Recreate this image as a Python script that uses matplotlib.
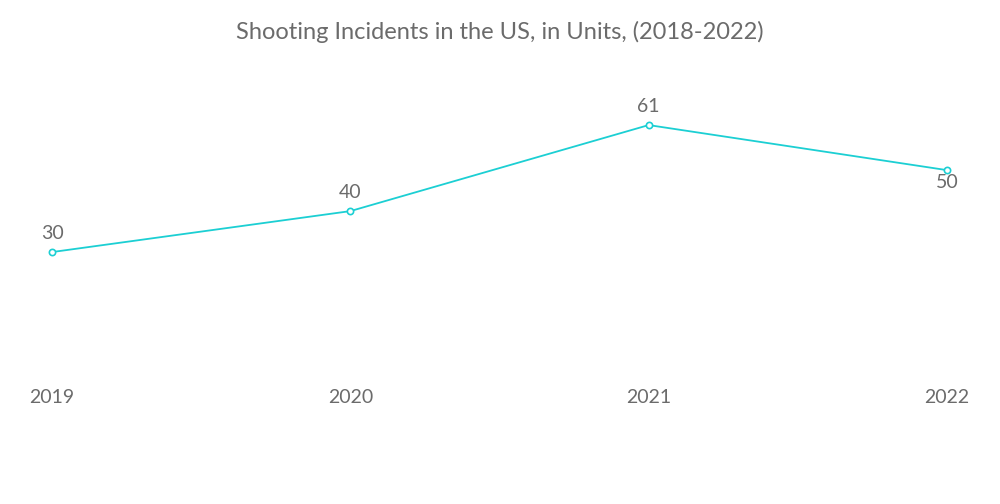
import matplotlib
matplotlib.use("Agg")
import matplotlib.pyplot as plt

years = ["2019", "2020", "2021", "2022"]
incidents = [30, 40, 61, 50]
label_pos = ["above", "above", "above", "below"]

line_color = "#1ccfd3"
text_color = "#6b6b6b"

fig = plt.figure(figsize=(10, 5.04), dpi=100)
ax = fig.add_axes([0.052, 0.256, 0.895, 0.569])
x = list(range(len(years)))
ax.plot(x, incidents, color=line_color, lw=1.3, marker="o", ms=4.5,
        mfc="white", mec=line_color, mew=1.2, clip_on=False, zorder=3)
for xi, v, p in zip(x, incidents, label_pos):
    if p == "above":
        ax.annotate(str(v), (xi, v), xytext=(0, 7), textcoords="offset points",
                    ha="center", va="bottom", fontsize=14, color=text_color,
                    family="Lato")
    else:
        ax.annotate(str(v), (xi, v), xytext=(0, -3), textcoords="offset points",
                    ha="center", va="top", fontsize=14, color=text_color,
                    family="Lato")
ax.set_xlim(0, 3)
ax.set_ylim(0, 70)
ax.set_xticks(x)
ax.set_xticklabels(years, fontsize=14, color=text_color, family="Lato")
ax.tick_params(axis="x", length=0, pad=10)
ax.set_yticks([])
for s in ax.spines.values():
    s.set_visible(False)
fig.text(0.5, 0.936, "Shooting Incidents in the US, in Units, (2018-2022)",
         ha="center", va="center", fontsize=17, color=text_color, family="Lato")
fig.savefig("out.png", dpi=100)
